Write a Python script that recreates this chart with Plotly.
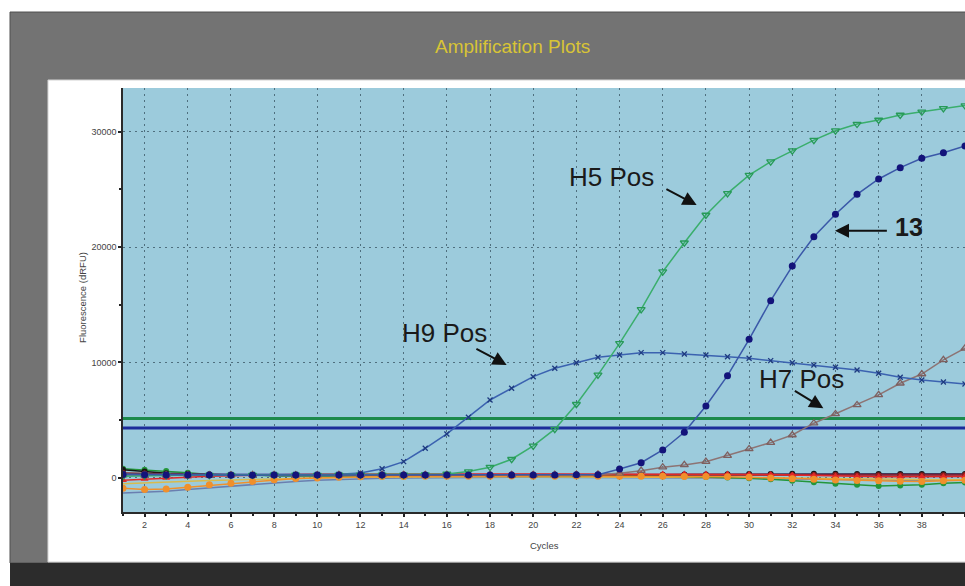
import plotly.graph_objects as go

cycles = list(range(1, 41))

h5_pos = [150, 200, 220, 230, 240, 250, 250, 260, 260, 250, 260, 270, 260, 270, 280, 350, 550,
          930, 1620, 2770, 4220, 6380, 8920, 11660, 14600, 17860, 20370, 22770, 24650, 26230,
          27390, 28340, 29260, 30070, 30650, 31000, 31430, 31710, 32010, 32250]
sample_13 = [300, 280, 260, 250, 250, 240, 240, 250, 250, 250, 260, 260, 250, 250, 260, 260, 250,
             250, 260, 260, 260, 270, 280, 780, 1320, 2420, 3950, 6230, 8860, 12010, 15350, 18350,
             20890, 22830, 24560, 25890, 26870, 27680, 28160, 28740]
h9_pos = [320, 310, 300, 300, 290, 290, 300, 300, 300, 300, 310, 430, 800, 1410, 2570, 3810, 5260,
          6750, 7770, 8770, 9500, 9980, 10450, 10650, 10850, 10850, 10740, 10650, 10500, 10360,
          10160, 9980, 9780, 9580, 9350, 9060, 8720, 8480, 8310, 8140]
h7_pos = [250, 240, 240, 250, 250, 250, 260, 260, 250, 250, 260, 260, 260, 250, 250, 260, 260, 260,
          250, 250, 260, 270, 290, 400, 630, 930, 1130, 1410, 1930, 2510, 3060, 3720, 4740, 5540,
          6320, 7190, 8200, 9000, 10220, 11230]

neg_darkred = [420, 380, 330, 300, 290, 280, 270, 270, 260, 260, 260, 260, 270, 270, 260, 260, 270,
               270, 260, 260, 260, 270, 270, 260, 260, 250, 250, 240, 230, 220, 230, 240, 250, 250,
               240, 240, 230, 230, 240, 250]
neg_orange = [-900, -1000, -950, -800, -600, -450, -300, -150, -50, 0, 50, 100, 120, 130, 140, 150,
              150, 150, 160, 150, 150, 160, 150, 150, 140, 140, 130, 120, 100, 60, 0, -60, -120,
              -180, -220, -250, -280, -300, -250, -200]
neg_black = [700, 550, 400, 350, 300, 300, 250, 220, 200, 200, 210, 220, 220, 220, 230, 230, 230,
             240, 240, 240, 250, 250, 250, 260, 270, 280, 290, 300, 320, 340, 350, 360, 360, 360,
             350, 350, 340, 340, 350, 350]
neg_green = [800, 700, 600, 450, 300, 250, 220, 200, 200, 200, 200, 200, 200, 200, 200, 210, 210,
             200, 200, 200, 200, 200, 190, 180, 170, 150, 120, 80, 30, -30, -120, -250, -380, -500,
             -600, -700, -650, -600, -450, -400]
neg_red = [-200, -100, 0, 100, 150, 200, 250, 280, 300, 320, 330, 340, 350, 350, 350, 350, 350, 350,
           350, 350, 350, 360, 360, 360, 350, 350, 350, 340, 340, 330, 300, 250, 200, 150, 120, 100,
           100, 100, 110, 120]
neg_purple = [300, 300, 290, 290, 290, 300, 300, 300, 300, 300, 300, 310, 310, 310, 310, 300, 300,
              300, 300, 310, 310, 310, 310, 300, 300, 300, 300, 300, 300, 300, 300, 300, 300, 300,
              300, 290, 290, 290, 290, 290]
neg_tan = [-500, -420, -350, -280, -220, -170, -120, -80, -40, 0, 30, 50, 70, 80, 90, 100, 100, 100,
           100, 100, 100, 100, 100, 100, 100, 90, 80, 60, 40, 20, 0, -30, -60, -100, -130, -150,
           -160, -160, -150, -140]
neg_steel = [-1300, -1250, -1150, -1000, -850, -700, -550, -400, -300, -200, -120, -60, -20, 0, 20,
             40, 50, 50, 50, 50, 50, 50, 50, 50, 40, 30, 20, 0, -20, -50, -80, -110, -140, -170, -190,
             -200, -200, -190, -180, -170]

threshold_green = 5150
threshold_blue = 4320

x_ticks = list(range(2, 42, 2))
y_ticks = [0, 10000, 20000, 30000]

labels = ["H5 Pos", "13", "H9 Pos", "H7 Pos"]
label_text_pos = [(23.64, 26090), (37.41, 21690), (15.91, 12550), (32.44, 8570)]
arrow_tail = [(26.10, 25080), (36.45, 21410), (17.30, 11255), (32.05, 7620)]
arrow_tip = [(27.57, 23640), (33.98, 21410), (18.77, 9784), (33.44, 6030)]

fig = go.Figure()

fig.add_trace(go.Scatter(x=[1, 40], y=[threshold_green, threshold_green], mode="lines",
                         line=dict(color="#1d8a4c", width=3), hoverinfo="skip"))
fig.add_trace(go.Scatter(x=[1, 40], y=[threshold_blue, threshold_blue], mode="lines",
                         line=dict(color="#1c2c9a", width=3), hoverinfo="skip"))

def base(y, color, symbol="circle", size=6, mode="lines+markers"):
    fig.add_trace(go.Scatter(x=cycles, y=y, mode=mode,
                             line=dict(color=color, width=1.5),
                             marker=dict(color=color, symbol=symbol, size=size)))

base(neg_steel, "#6a7fb0", mode="lines")
base(neg_tan, "#d9bb4c", mode="lines")
base(neg_green, "#23963a")
base(neg_black, "#151515")
base(neg_purple, "#6b2d91", mode="lines")
base(neg_darkred, "#8b1e1e")
base(neg_red, "#e02828", symbol="triangle-up", size=7)
base(neg_orange, "#f0902c", size=7)

fig.add_trace(go.Scatter(x=cycles, y=h7_pos, mode="lines+markers",
                         line=dict(color="#8d7474", width=1.5),
                         marker=dict(symbol="triangle-up-open", size=7, color="#7d5f5f",
                                     line=dict(width=1.3))))
fig.add_trace(go.Scatter(x=cycles, y=h9_pos, mode="lines+markers",
                         line=dict(color="#3b62b0", width=1.5),
                         marker=dict(symbol="x-thin", size=5, color="#1e3a80",
                                     line=dict(width=1.3, color="#1e3a80"))))
fig.add_trace(go.Scatter(x=cycles, y=h5_pos, mode="lines+markers",
                         line=dict(color="#3aae6c", width=1.5),
                         marker=dict(symbol="triangle-down-open", size=7, color="#279a58",
                                     line=dict(width=1.3))))
fig.add_trace(go.Scatter(x=cycles, y=sample_13, mode="lines+markers",
                         line=dict(color="#3a58a8", width=1.5),
                         marker=dict(symbol="circle", size=7, color="#13137a")))

annotations = []
for lab, (tx, ty), (ax_, ay_), (hx, hy) in zip(labels, label_text_pos, arrow_tail, arrow_tip):
    annotations.append(dict(x=tx, y=ty, xref="x", yref="y", text=("<b>" + lab + "</b>") if lab == "13" else lab,
                            showarrow=False, font=dict(family="Liberation Sans, Arial", size=26 if lab != "13" else 25,
                                                       color="#1a1a1a"),
                            xanchor="center", yanchor="middle"))
    annotations.append(dict(x=hx, y=hy, xref="x", yref="y", ax=ax_, ay=ay_, axref="x", ayref="y",
                            text="", showarrow=True, arrowhead=2, arrowsize=1.4, arrowwidth=2,
                            arrowcolor="#111111"))

annotations.append(dict(x=0.462, y=1.0967, xref="paper", yref="paper", text="Amplification Plots",
                        showarrow=False, font=dict(family="Liberation Sans, Arial", size=19, color="#d8c436"),
                        xanchor="center", yanchor="middle"))
annotations.append(dict(x=0.501, y=-0.078, xref="paper", yref="paper", text="Cycles",
                        showarrow=False, font=dict(family="Liberation Sans, Arial", size=9.5, color="#444"),
                        xanchor="center", yanchor="middle"))
annotations.append(dict(x=-0.0475, y=0.505, xref="paper", yref="paper", text="Fluorescence (dRFU)",
                        showarrow=False, textangle=-90,
                        font=dict(family="Liberation Sans, Arial", size=9.5, color="#444"),
                        xanchor="center", yanchor="middle"))

shapes = [
    dict(type="rect", xref="paper", yref="paper", x0=-0.1342, x1=1.02, y0=-0.1203, y1=1.1792,
         fillcolor="#737373", line=dict(color="#505050", width=1), layer="below"),
    dict(type="rect", xref="paper", yref="paper", x0=-0.1342, x1=1.02, y0=-0.18, y1=-0.1203,
         fillcolor="#2c2c2c", line=dict(width=0), layer="below"),
    dict(type="rect", xref="paper", yref="paper", x0=-0.0891, x1=1.02, y0=-0.1179, y1=1.0189,
         fillcolor="#ffffff", line=dict(color="#d0d0d0", width=1), layer="below"),
    dict(type="rect", xref="paper", yref="paper", x0=0, x1=1, y0=0, y1=1,
         fillcolor="#9ccbdc", line=dict(width=0), layer="below"),
]

fig.update_layout(
    width=965, height=586,
    margin=dict(l=123, r=0, t=88, b=74),
    paper_bgcolor="#ffffff",
    plot_bgcolor="#9ccbdc",
    showlegend=False,
    annotations=annotations,
    shapes=shapes,
    font=dict(family="Liberation Sans, Arial", size=9, color="#444"),
)
fig.update_xaxes(range=[1, 40], tickvals=x_ticks, ticktext=[str(v) for v in x_ticks],
                 showgrid=True, gridcolor="#4f6f7e", griddash="2px,4px", gridwidth=1,
                 showline=True, linecolor="#2a2a2a", linewidth=1.5,
                 ticks="outside", ticklen=3, tickwidth=2, tickcolor="#222",
                 minor=dict(dtick=1, tick0=1, ticks="outside", ticklen=2, tickwidth=2, tickcolor="#222",
                            showgrid=False),
                 zeroline=False, tickfont=dict(size=9, color="#444"))
fig.update_yaxes(range=[-2950, 33770], tickvals=y_ticks, ticktext=[str(v) for v in y_ticks],
                 showgrid=True, gridcolor="#4f6f7e", griddash="2px,4px", gridwidth=1,
                 showline=True, linecolor="#2a2a2a", linewidth=1.5,
                 ticks="outside", ticklen=3, tickwidth=2, tickcolor="#222",
                 minor=dict(dtick=5000, tick0=0, ticks="outside", ticklen=2, tickwidth=2, tickcolor="#222",
                            showgrid=False),
                 zeroline=False, tickfont=dict(size=9, color="#444"))

fig.write_html("out.html", config={"displayModeBar": False},
               post_script="document.body.style.margin='0';document.body.style.overflow='hidden';")
